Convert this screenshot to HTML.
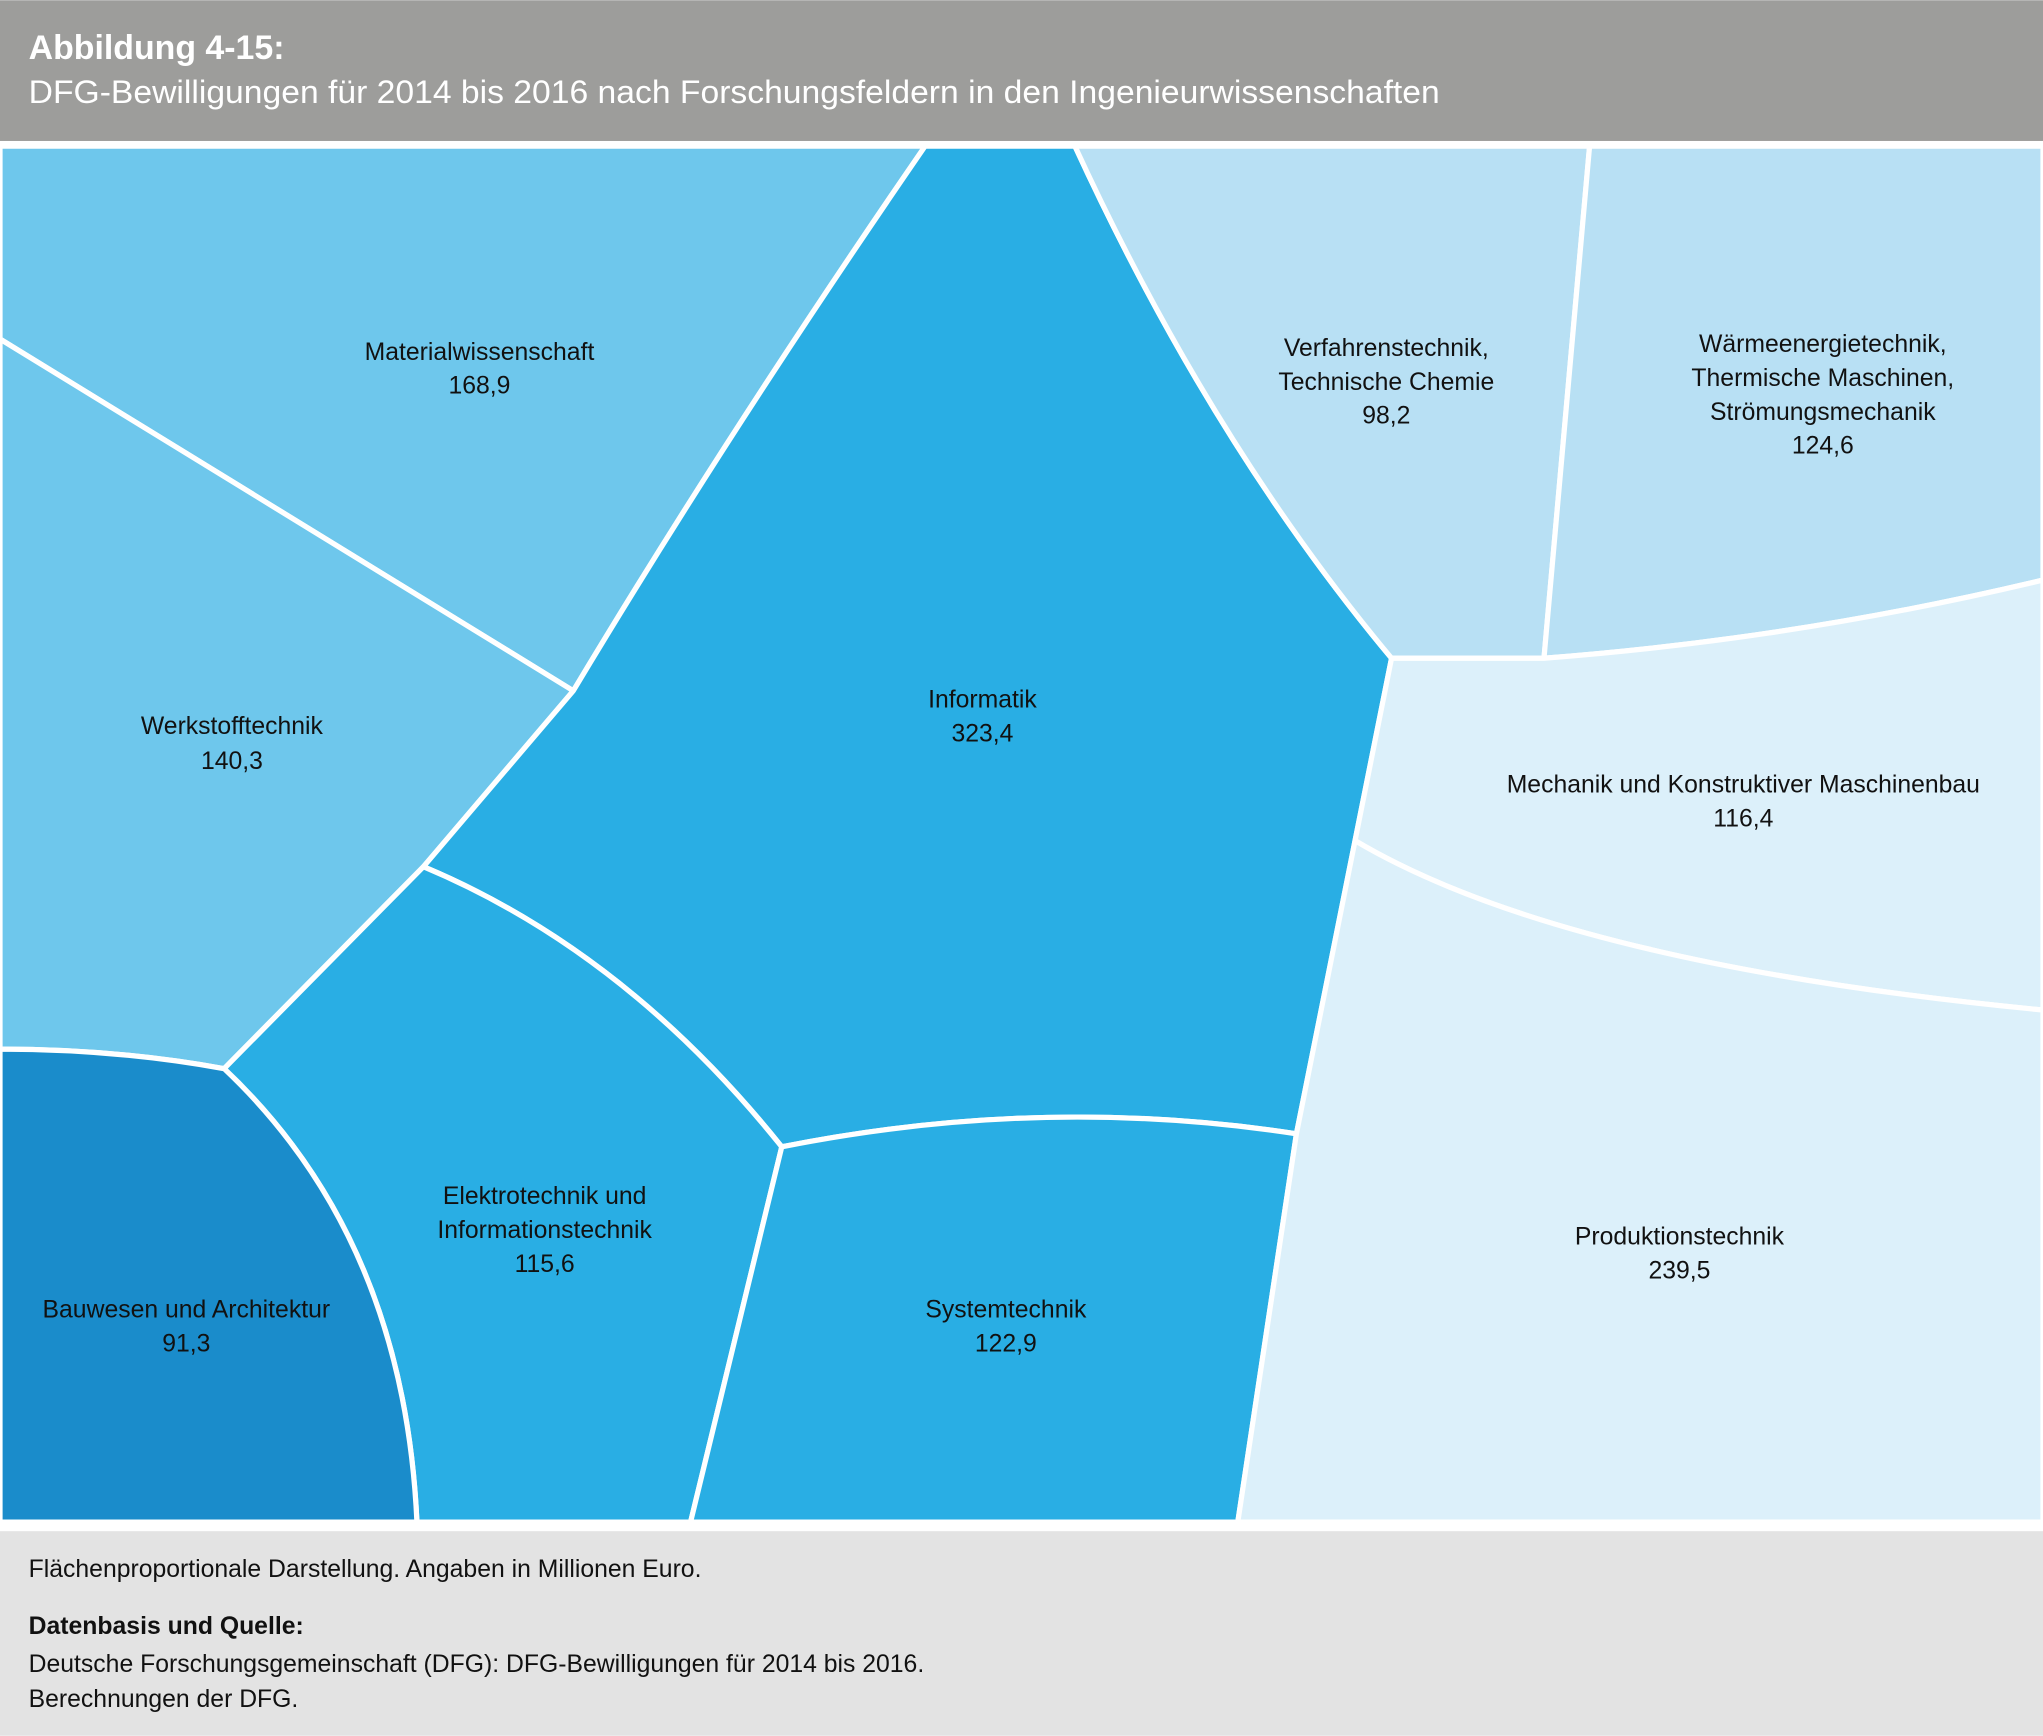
<!DOCTYPE html>
<html><head><meta charset="utf-8"><style>
html,body{margin:0;padding:0;background:#fff;}
svg{display:block;}
</style></head><body>
<svg width="2043" height="1736" viewBox="0 0 1568 1332" xmlns="http://www.w3.org/2000/svg" font-family="Liberation Sans, sans-serif">
<rect x="0" y="0" width="1568" height="108" fill="#9d9d9b"/>
<text x="22" y="45" fill="#fff" font-size="26" font-weight="bold">Abbildung 4-15:</text>
<text x="22" y="79" fill="#fff" font-size="25" textLength="1083" lengthAdjust="spacingAndGlyphs">DFG-Bewilligungen für 2014 bis 2016 nach Forschungsfeldern in den Ingenieurwissenschaften</text>
<g stroke="#fff" stroke-width="4" stroke-linejoin="round">
<path d="M0,112 L710,112 Q560,330 440,530 L0,260 Z" fill="#6ec7ec"/>
<path d="M0,260 L440,530 L325,665 L172,820 Q90,805 0,805 Z" fill="#6ec7ec"/>
<path d="M710,112 L825,112 Q930,340 1068,505 L995,870 Q800,840 600,880 Q480,730 325,665 L440,530 Q560,330 710,112 Z" fill="#29aee4"/>
<path d="M325,665 Q480,730 600,880 L530,1168 L320,1168 Q310,950 172,820 Z" fill="#29aee4"/>
<path d="M0,805 Q90,805 172,820 Q310,950 320,1168 L0,1168 Z" fill="#1a8ccb"/>
<path d="M600,880 Q800,840 995,870 L950,1168 L530,1168 Z" fill="#29aee4"/>
<path d="M825,112 L1220,112 L1185,505 L1068,505 Q930,340 825,112 Z" fill="#b8e0f4"/>
<path d="M1220,112 L1568,112 L1568,445 Q1380,490 1185,505 Z" fill="#b8e0f4"/>
<path d="M1068,505 L1185,505 Q1380,490 1568,445 L1568,775 Q1200,740 1040,645 Z" fill="#dcf0fa"/>
<path d="M1040,645 Q1200,740 1568,775 L1568,1168 L950,1168 L995,870 Z" fill="#dcf0fa"/>
</g>
<rect x="0" y="1168" width="1568" height="7" fill="#fff"/>
<rect x="0" y="1175" width="1568" height="157" fill="#e3e3e3"/>
<g font-size="19" fill="#111" text-anchor="middle">
<text x="368" y="276">Materialwissenschaft</text><text x="368" y="302">168,9</text>
<text x="178" y="563">Werkstofftechnik</text><text x="178" y="590">140,3</text>
<text x="754" y="543">Informatik</text><text x="754" y="569">323,4</text>
<text x="418" y="924">Elektrotechnik und</text><text x="418" y="950">Informationstechnik</text><text x="418" y="976">115,6</text>
<text x="143" y="1011">Bauwesen und Architektur</text><text x="143" y="1037">91,3</text>
<text x="772" y="1011">Systemtechnik</text><text x="772" y="1037">122,9</text>
<text x="1064" y="273">Verfahrenstechnik,</text><text x="1064" y="299">Technische Chemie</text><text x="1064" y="325">98,2</text>
<text x="1399" y="270">Wärmeenergietechnik,</text><text x="1399" y="296">Thermische Maschinen,</text><text x="1399" y="322">Strömungsmechanik</text><text x="1399" y="348">124,6</text>
<text x="1338" y="608">Mechanik und Konstruktiver Maschinenbau</text><text x="1338" y="634">116,4</text>
<text x="1289" y="955">Produktionstechnik</text><text x="1289" y="981">239,5</text>
</g>
<g font-size="19" fill="#111">
<text x="22" y="1210">Flächenproportionale Darstellung. Angaben in Millionen Euro.</text>
<text x="22" y="1254" font-weight="bold">Datenbasis und Quelle:</text>
<text x="22" y="1283">Deutsche Forschungsgemeinschaft (DFG): DFG-Bewilligungen für 2014 bis 2016.</text>
<text x="22" y="1310">Berechnungen der DFG.</text>
</g>
</svg>
</body></html>
